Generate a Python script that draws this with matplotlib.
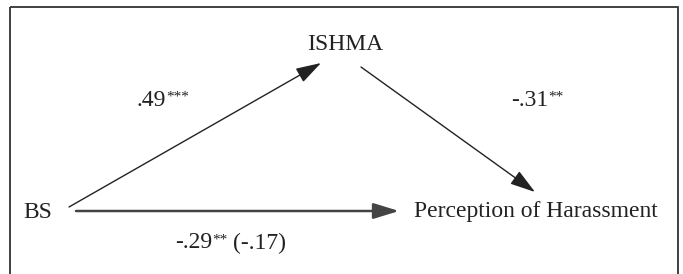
import matplotlib.pyplot as plt
from matplotlib.patches import Rectangle

plt.rcParams['font.family'] = ['Liberation Serif', 'DejaVu Serif']

# Nodes of the mediation model
nodes = ["BS", "ISHMA", "Perception of Harassment"]
# Path coefficients: a path, b path, c path (c' in brackets)
coefs = [".49", "-.31", "-.29"]
stars = ["***", "**", "**"]
direct_adj = "(-.17)"

# layout (pixel coordinates, y down)
pos = {"BS": (38, 212), "ISHMA": (345, 45), "Perception of Harassment": (536, 212)}
coef_pos = [(166, 100), (548, 100), (212, 243)]

fig = plt.figure(figsize=(6.83, 2.74), dpi=100)
ax = fig.add_axes([0, 0, 1, 1])
ax.set_xlim(0, 683)
ax.set_ylim(274, 0)
ax.axis("off")

# frame
ax.add_patch(Rectangle((10, 7), 668, 290, fill=False, ec="#333333", lw=1.3))

fs = 17
col = "#222222"
for n in nodes:
    ax.text(pos[n][0], pos[n][1], n, fontsize=fs, ha="center", va="center", color=col)

arrow = dict(arrowstyle="-|>,head_length=1.3,head_width=0.4", color=col,
             lw=1.0, shrinkA=0, shrinkB=0, mutation_scale=12)
ax.annotate("", xy=(321, 63), xytext=(69, 207), arrowprops=arrow)
ax.annotate("", xy=(535, 192), xytext=(361, 67), arrowprops=arrow)
arrow_h = dict(arrow, color="#444444", lw=1.8)
ax.annotate("", xy=(399, 211), xytext=(76, 211), arrowprops=arrow_h)

# coefficients with superscript stars
last = None
for c, s, (x, y) in zip(coefs, stars, coef_pos):
    t = ax.text(x, y, c, fontsize=fs, ha="right", va="center", color=col)
    ax.annotate(s, xy=(1, 0.95), xycoords=t, xytext=(0.5, 0), textcoords="offset points",
                fontsize=11, ha="left", va="top", color=col)
    last = t
ax.annotate(direct_adj, xy=(1, 0.5), xycoords=last, xytext=(15, 0), textcoords="offset points",
            fontsize=fs, ha="left", va="center", color=col)

fig.savefig("out.png", dpi=100)
